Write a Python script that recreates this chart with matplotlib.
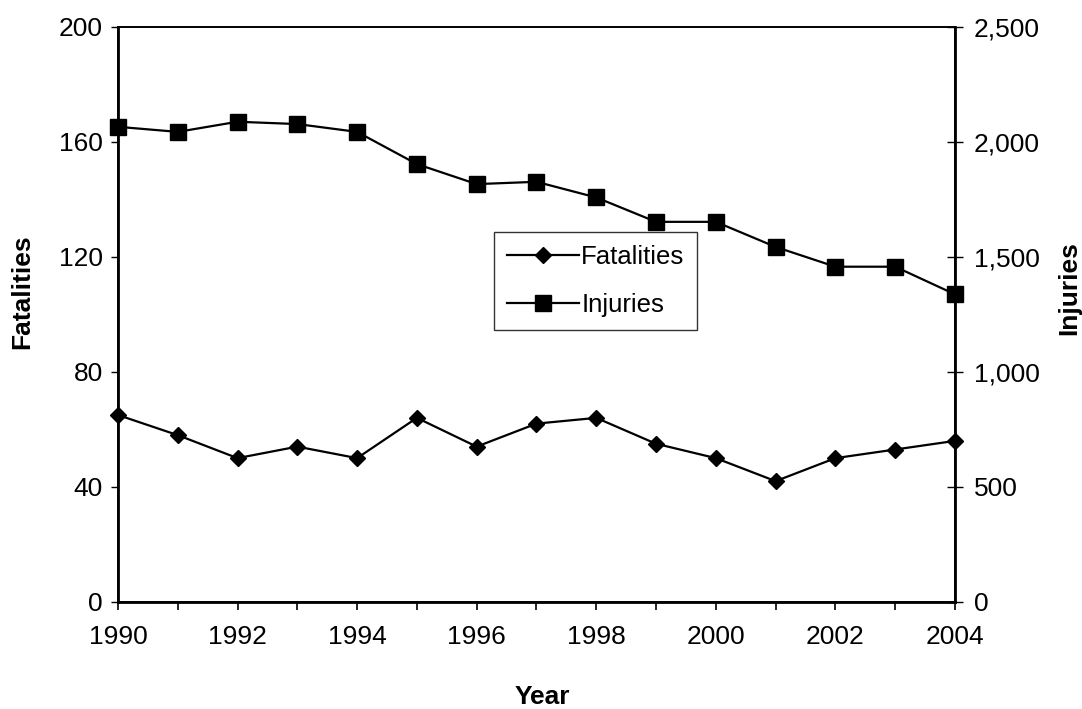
import matplotlib.pyplot as plt
import numpy as np

plt.rcParams['font.family'] = ['Liberation Sans', 'DejaVu Sans']

years = np.arange(1990, 2005)
fatalities = [65, 58, 50, 54, 50, 64, 54, 62, 64, 55, 50, 42, 50, 53, 56]
injuries = [2065, 2043, 2087, 2077, 2043, 1903, 1816, 1826, 1758, 1652, 1652, 1543, 1457, 1457, 1337]

fig = plt.figure(figsize=(10.82, 7.09), dpi=100)
ax = fig.add_axes([0.109, 0.151, 0.7736, 0.8113])
ax2 = ax.twinx()

l1, = ax.plot(years, fatalities, color='black', lw=1.6, marker='D', markersize=8.5,
              label='Fatalities', clip_on=False, zorder=3)
l2, = ax2.plot(years, injuries, color='black', lw=1.6, marker='s', markersize=12,
               label='Injuries', clip_on=False, zorder=3)

ax.set_xlim(1990, 2004)
ax.set_ylim(0, 200)
ax2.set_ylim(0, 2500)
ax.set_xticks(np.arange(1990, 2005, 1))
ax.set_xticklabels([str(y) if y % 2 == 0 else '' for y in years])
ax.set_yticks([0, 40, 80, 120, 160, 200])
ax2.set_yticks([0, 500, 1000, 1500, 2000, 2500])
ax2.set_yticklabels(['0', '500', '1,000', '1,500', '2,000', '2,500'])

ax.tick_params(axis='x', direction='out', length=5.5, width=1.2, labelsize=19, pad=11)
ax.tick_params(axis='y', direction='out', length=5, width=1, labelsize=19, pad=6)
ax2.tick_params(axis='y', direction='inout', length=11.5, width=1, labelsize=19, pad=8)

for a in (ax, ax2):
    for s in a.spines.values():
        s.set_linewidth(1.2)
ax.spines['left'].set_linewidth(2)
ax2.spines['right'].set_linewidth(2)
ax.spines['bottom'].set_linewidth(2)

# axis titles placed as figure text
fig.text(0.501, 0.017, 'Year', fontsize=19, fontweight='bold', ha='center', va='center')
fig.text(0.0203, 0.588, 'Fatalities', fontsize=19, fontweight='bold',
         ha='center', va='center', rotation=90)
fig.text(0.9885, 0.594, 'Injuries', fontsize=19, fontweight='bold',
         ha='center', va='center', rotation=90)

leg = ax2.legend([l1, l2], ['Fatalities', 'Injuries'], loc='upper left',
                 bbox_to_anchor=(0.449, 0.643), fontsize=18.5, frameon=True,
                 fancybox=False, handlelength=2.8, handletextpad=0.1,
                 borderpad=0.5, labelspacing=0.95, borderaxespad=0)
leg.get_frame().set_edgecolor('black')
leg.get_frame().set_linewidth(1)

fig.savefig('out.png', dpi=100)
plt.close()
